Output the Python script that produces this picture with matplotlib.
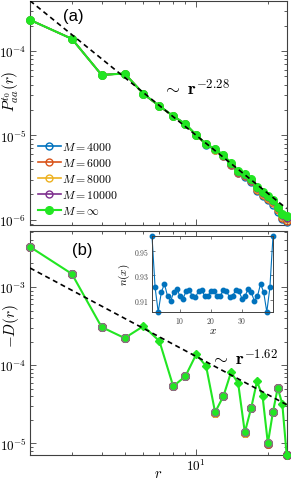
import numpy as np
import matplotlib
matplotlib.use('Agg')
import matplotlib.pyplot as plt
from matplotlib.ticker import LogLocator, NullFormatter, FuncFormatter, FixedLocator

plt.rcParams['mathtext.fontset'] = 'cm'
plt.rcParams['font.family'] = ['DejaVu Sans']

# ---------------- data ----------------
r = [2, 3, 4, 5, 6, 7, 8, 9, 10, 11, 12, 13, 14, 15, 16, 17, 18, 19, 20, 21, 22, 23, 24]

P_inf = [2.33e-4, 1.39e-4, 5.2e-5, 5.4e-5, 3.1e-5, 2.23e-5, 1.70e-5, 1.37e-5, 1.01e-5, 7.9e-6,
         6.9e-6, 5.9e-6, 4.7e-6, 3.8e-6, 3.5e-6, 3.05e-6, 2.45e-6, 2.14e-6, 1.92e-6, 1.73e-6,
         1.43e-6, 1.18e-6, 1.10e-6]
P_4000 = [2.33e-4, 1.39e-4, 5.2e-5, 5.4e-5, 3.1e-5, 2.22e-5, 1.69e-5, 1.36e-5, 1.00e-5, 7.8e-6,
          6.7e-6, 5.7e-6, 4.45e-6, 3.55e-6, 3.25e-6, 2.8e-6, 2.2e-6, 1.92e-6, 1.70e-6, 1.52e-6,
          1.25e-6, 1.02e-6, 0.94e-6]
P_6000 = [2.33e-4, 1.39e-4, 5.2e-5, 5.4e-5, 3.1e-5, 2.22e-5, 1.69e-5, 1.36e-5, 1.00e-5, 7.85e-6,
          6.75e-6, 5.75e-6, 4.52e-6, 3.62e-6, 3.32e-6, 2.87e-6, 2.27e-6, 1.98e-6, 1.76e-6, 1.58e-6,
          1.30e-6, 1.06e-6, 0.98e-6]
P_8000 = [2.33e-4, 1.39e-4, 5.2e-5, 5.4e-5, 3.1e-5, 2.22e-5, 1.69e-5, 1.36e-5, 1.00e-5, 7.87e-6,
          6.8e-6, 5.8e-6, 4.58e-6, 3.68e-6, 3.38e-6, 2.93e-6, 2.33e-6, 2.03e-6, 1.81e-6, 1.63e-6,
          1.34e-6, 1.10e-6, 1.02e-6]
P_10000 = [2.33e-4, 1.39e-4, 5.2e-5, 5.4e-5, 3.1e-5, 2.22e-5, 1.70e-5, 1.37e-5, 1.01e-5, 7.88e-6,
           6.85e-6, 5.85e-6, 4.62e-6, 3.72e-6, 3.43e-6, 2.98e-6, 2.38e-6, 2.08e-6, 1.85e-6, 1.67e-6,
           1.37e-6, 1.13e-6, 1.05e-6]

D_inf = [3.26e-3, 1.47e-3, 3.07e-4, 2.22e-4, 3.16e-4, 2.03e-4, 5.37e-5, 7.2e-5, 1.38e-4, 9.7e-5,
         2.5e-5, 4.0e-5, 8.1e-5, 5.9e-5, 1.38e-5, 2.8e-5, 6.2e-5, 4.0e-5, 1.0e-5, 2.5e-5,
         5.1e-5, 3.2e-5, 7.0e-6]
nan = np.nan
D_4000 = [3.26e-3, 1.47e-3, 3.07e-4, 2.22e-4, nan, nan, 5.37e-5, 7.2e-5, nan, nan,
          2.45e-5, 4.0e-5, nan, nan, 1.36e-5, 2.8e-5, nan, nan, 0.98e-5, 2.5e-5,
          5.1e-5, nan, 7.2e-6]
D_6000 = [3.26e-3, 1.47e-3, 3.07e-4, 2.22e-4, nan, nan, 5.37e-5, 7.2e-5, nan, nan,
          2.47e-5, 4.0e-5, nan, nan, 1.37e-5, 2.8e-5, nan, nan, 0.99e-5, 2.5e-5,
          5.1e-5, nan, 7.1e-6]
D_8000 = [3.26e-3, 1.47e-3, 3.07e-4, 2.22e-4, nan, nan, 5.37e-5, 7.2e-5, nan, nan,
          2.48e-5, 4.0e-5, nan, nan, 1.37e-5, 2.8e-5, nan, nan, 1.0e-5, 2.5e-5,
          5.1e-5, nan, 7.1e-6]
D_10000 = [3.26e-3, 1.47e-3, 3.07e-4, 2.22e-4, nan, nan, 5.37e-5, 7.2e-5, nan, nan,
           2.5e-5, 4.0e-5, nan, nan, 1.38e-5, 2.8e-5, nan, nan, 1.0e-5, 2.5e-5,
           5.1e-5, nan, 7.0e-6]

M_labels = ['$M=4000$', '$M=6000$', '$M=8000$', '$M=10000$', r'$M=\infty$']

fit_a_exp, fit_a_amp10 = -2.28, 1.0e-5
fit_b_exp, fit_b_amp10 = -1.62, 1.29e-4

x_site = list(range(1, 41))
n_x = [0.962, 0.920, 0.900, 0.916, 0.923, 0.913, 0.909, 0.916, 0.919, 0.913,
       0.911, 0.917, 0.918, 0.913, 0.912, 0.917, 0.918, 0.913, 0.913, 0.917,
       0.917, 0.913, 0.913, 0.918, 0.917, 0.912, 0.913, 0.918, 0.917, 0.911,
       0.913, 0.919, 0.916, 0.909, 0.913, 0.923, 0.916, 0.900, 0.920, 0.962]

# ---------------- style ----------------
cols = ['#0072BD', '#D95319', '#EDB120', '#7E2F8E']
green = '#22E622'
axcol = '#404040'
diamond_r = [6, 7, 10, 11, 14, 15, 18, 19, 23, 24]

fig = plt.figure(figsize=(2.91, 4.81), dpi=100)
ax1 = fig.add_axes([30/291, 1-226/481, 256.7/291, 224/481])
ax2 = fig.add_axes([30/291, 1-455.5/481, 256.7/291, 223.5/481])

def dec_fmt(v, pos):
    e = int(round(np.log10(v)))
    return r'$10^{%d}$' % e

for ax in (ax1, ax2):
    ax.set_xscale('log')
    ax.set_yscale('log')
    ax.set_xlim(2, 24)
    ax.tick_params(which='both', direction='in', top=True, right=True, colors=axcol,
                   labelcolor='black', labelsize=9.5, width=0.6, pad=2.5)
    ax.tick_params(which='major', length=4)
    ax.tick_params(which='minor', length=2.2)
    for s in ax.spines.values():
        s.set_color(axcol)
        s.set_linewidth(0.8)
    ax.xaxis.set_major_locator(FixedLocator([10]))
    ax.xaxis.set_minor_locator(FixedLocator([2, 3, 4, 5, 6, 7, 8, 9, 20]))
    ax.xaxis.set_minor_formatter(NullFormatter())
    ax.yaxis.set_major_formatter(FuncFormatter(dec_fmt))
    ax.yaxis.set_minor_locator(LogLocator(base=10, subs=np.arange(2, 10)))
    ax.yaxis.set_minor_formatter(NullFormatter())

# ---- panel (a)
r_arr = np.array(r, dtype=float)
ax1.plot(r_arr, fit_a_amp10 * (r_arr / 10) ** fit_a_exp, ls=(0, (3, 2.2)), color='black', lw=1.2, zorder=5)
for vals, c, lab in zip([P_4000, P_6000, P_8000, P_10000], cols, M_labels[:4]):
    ax1.plot(r, vals, '-o', color=c, mfc='none', mec=c, ms=5, mew=1.0, lw=1.2, label=lab, clip_on=False, zorder=3)
ax1.plot(r, P_inf, '-o', color=green, mfc=green, mec=green, ms=5.5, lw=1.5, label=M_labels[4], clip_on=False, zorder=4)
ax1.set_ylim(8.7e-7, 3.9e-4)
ax1.yaxis.set_major_locator(FixedLocator([1e-6, 1e-5, 1e-4]))
ax1.set_xticklabels([])
ax1.set_ylabel(r'$P^{t_0}_{aa}(r)$', fontsize=11)
ax1.yaxis.set_label_coords(-0.035, 0.60)
ax1.text(0.13, 0.935, '(a)', transform=ax1.transAxes, fontsize=12, family='Liberation Sans', ha='left', va='center')
ax1.text(0.515, 0.61, r'$\sim\ \mathbf{r}^{\mathbf{-2.28}}$', transform=ax1.transAxes, fontsize=13, ha='left', va='center')
leg = ax1.legend(loc='lower left', bbox_to_anchor=(0.0, 0.0), frameon=False, fontsize=8.5,
                 handlelength=1.9, handletextpad=0.15, labelspacing=0.25, borderaxespad=0.3)

# ---- panel (b)
ax2.plot(r_arr, fit_b_amp10 * (r_arr / 10) ** fit_b_exp, ls=(0, (3, 2.2)), color='black', lw=1.2, zorder=5)
for vals, c in zip([D_4000, D_6000, D_8000, D_10000], cols):
    ax2.plot(r, vals, 'o', color=c, mfc='none', mec=c, ms=5.5, mew=1.0, clip_on=False, zorder=3)
ax2.plot(r, D_inf, '-', color=green, lw=1.5, clip_on=False, zorder=4)
rc = [ri for ri in r if ri not in diamond_r]
dc = [D_inf[r.index(ri)] for ri in rc]
rd = [ri for ri in r if ri in diamond_r]
dd = [D_inf[r.index(ri)] for ri in rd]
ax2.plot(rc, dc, 'o', mfc=green, mec='#8a7a8a', ms=5.5, mew=0.7, clip_on=False, zorder=4)
ax2.plot(rd, dd, 'D', mfc=green, mec=green, ms=4.3, clip_on=False, zorder=4)
ax2.set_ylim(7.2e-6, 5.2e-3)
ax2.yaxis.set_major_locator(FixedLocator([1e-5, 1e-4, 1e-3]))
ax2.xaxis.set_major_formatter(FuncFormatter(dec_fmt))
ax2.set_xlabel(r'$r$', fontsize=10.5, labelpad=-6)
ax2.set_ylabel(r'$-D(r)$', fontsize=11)
ax2.yaxis.set_label_coords(-0.035, 0.58)
ax2.text(0.165, 0.915, '(b)', transform=ax2.transAxes, fontsize=12, family='Liberation Sans', ha='left', va='center')
ax2.text(0.70, 0.43, r'$\sim\ \mathbf{r}^{\mathbf{-1.62}}$', transform=ax2.transAxes, fontsize=13, ha='left', va='center')

# ---- inset
axi = fig.add_axes([152/291, 1-313/481, 121/291, 76/481])
axi.plot(x_site, n_x, '-o', color=cols[0], ms=3.2, lw=0.8, clip_on=False)
axi.set_xlim(1, 40)
axi.set_ylim(0.900, 0.962)
axi.xaxis.set_major_locator(FixedLocator([10, 20, 30]))
axi.yaxis.set_major_locator(FixedLocator([0.91, 0.93, 0.95]))
axi.yaxis.set_major_formatter(FuncFormatter(lambda v, p: r'$%.2f$' % v))
axi.xaxis.set_major_formatter(FuncFormatter(lambda v, p: r'$%d$' % v))
axi.tick_params(direction='in', top=True, right=True, colors=axcol, labelcolor='#444444',
                labelsize=5.5, length=2.5, width=0.5, pad=2)
for s in axi.spines.values():
    s.set_color(axcol)
    s.set_linewidth(0.7)
axi.set_xlabel(r'$x$', fontsize=8, labelpad=0)
axi.set_ylabel(r'$n(x)$', fontsize=8, labelpad=1)

fig.savefig('out.png', dpi=100)
